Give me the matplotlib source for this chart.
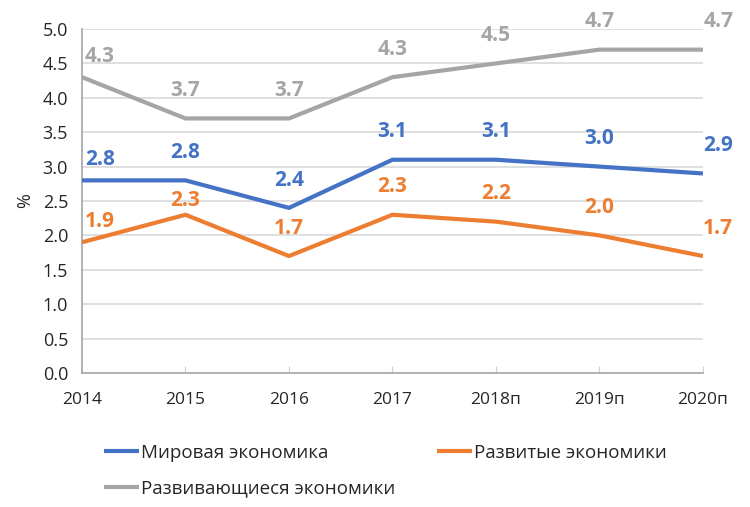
import matplotlib.pyplot as plt
import numpy as np

plt.rcParams['font.family'] = ['Open Sans', 'DejaVu Sans']

years = ['2014', '2015', '2016', '2017', '2018п', '2019п', '2020п']
world = [2.8, 2.8, 2.4, 3.1, 3.1, 3.0, 2.9]
developed = [1.9, 2.3, 1.7, 2.3, 2.2, 2.0, 1.7]
emerging = [4.3, 3.7, 3.7, 4.3, 4.5, 4.7, 4.7]

series = [
    ('Мировая экономика', world, '#4472C4'),
    ('Развитые экономики', developed, '#ED7D31'),
    ('Развивающиеся экономики', emerging, '#A5A5A5'),
]

fig = plt.figure(figsize=(7.5, 5.07), dpi=100)
ax = fig.add_axes([0.1093, 0.2643, 0.828, 0.6785])

x = np.arange(len(years))
handles = []
for name, vals, color in series:
    h, = ax.plot(x, vals, color=color, lw=3, solid_capstyle='butt', label=name, zorder=3)
    handles.append(h)
    for i, v in enumerate(vals):
        dx = 0
        dy = 20
        if i == 0:
            dx, dy = 13, 15
        elif i == len(vals) - 1:
            dx = 11
        if name == 'Развитые экономики' and i == 1:
            dy = 10
        ax.annotate(f'{v:.1f}', (x[i], v), xytext=(dx, dy), textcoords='offset points',
                    ha='center', va='center', color=color, fontsize=15, fontweight='bold',
                    annotation_clip=False)

ax.set_xlim(0, len(years) - 1)
ax.set_ylim(0, 5)
ax.set_yticks(np.arange(0, 5.01, 0.5))
ax.set_yticklabels([f'{t:.1f}' for t in np.arange(0, 5.01, 0.5)])
ax.set_xticks(x)
ax.set_xticklabels(years)
ax.grid(axis='y', color='#D9D9D9', lw=1.2)
ax.set_axisbelow(True)
for s in ['top', 'right']:
    ax.spines[s].set_visible(False)
for s in ['left', 'bottom']:
    ax.spines[s].set_color('#A6A6A6')
    ax.spines[s].set_linewidth(1.2)
ax.tick_params(axis='y', length=0, labelsize=13, pad=10, colors='#262626')
ax.tick_params(axis='x', length=5, direction='in', color='#D0D0D0', labelsize=12.5, pad=14,
               labelcolor='#262626')
ax.set_ylabel('%', fontsize=13, labelpad=6, color='#262626')

fig.legend([handles[0], handles[2], handles[1]],
           [handles[0].get_label(), handles[2].get_label(), handles[1].get_label()],
           ncol=2, loc='upper left', bbox_to_anchor=(0.138, 0.125), frameon=False,
           fontsize=13.5, handlelength=1.9, handletextpad=0.1, columnspacing=2.2,
           labelspacing=0.95, borderaxespad=0, borderpad=0, labelcolor='#262626')

fig.savefig('out.png', dpi=100)
